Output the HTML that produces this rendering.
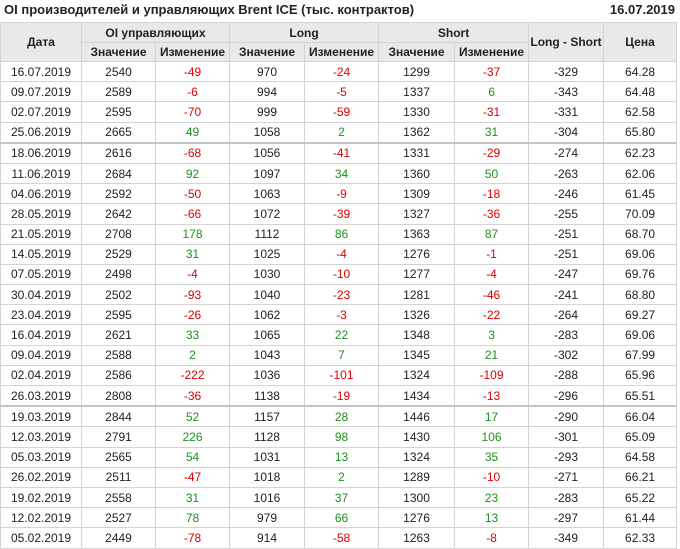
<!DOCTYPE html>
<html><head><meta charset="utf-8"><style>
body{margin:0;background:#fff;width:680px;height:548px;overflow:hidden;font-family:"Liberation Sans",Arial,sans-serif;color:#222;position:relative}
.t{position:absolute;top:2px;left:4px;font-size:13px;font-weight:bold}
.d{position:absolute;top:2px;right:5px;font-size:13px;font-weight:bold}
table{position:absolute;top:22px;left:0;border-collapse:collapse;table-layout:fixed;width:676px;font-size:12px}
td,th{border:1px solid #d4d4d4;text-align:center;padding:0;white-space:nowrap;overflow:hidden}
th{background:#e9e9e9;font-weight:bold;color:#222}
tr.h1 th{height:19px}
tr.h2 th{height:18px}
tbody td{height:19.2px}
tr.s td{border-bottom:2px solid #c4c4c4}
.r{color:#d00}.g{color:#1e8f1e}
</style></head><body>
<div class="t">OI производителей и управляющих Brent ICE (тыс. контрактов)</div>
<div class="d">16.07.2019</div>
<table>
<colgroup><col style="width:81px"><col style="width:74px"><col style="width:74px"><col style="width:75px"><col style="width:74px"><col style="width:76px"><col style="width:74px"><col style="width:75px"><col style="width:73px"></colgroup>
<thead>
<tr class="h1"><th rowspan="2">Дата</th><th colspan="2">OI управляющих</th><th colspan="2">Long</th><th colspan="2">Short</th><th rowspan="2">Long - Short</th><th rowspan="2">Цена</th></tr>
<tr class="h2"><th>Значение</th><th>Изменение</th><th>Значение</th><th>Изменение</th><th>Значение</th><th>Изменение</th></tr>
</thead>
<tbody>
<tr><td>16.07.2019</td><td>2540</td><td class="r">-49</td><td>970</td><td class="r">-24</td><td>1299</td><td class="r">-37</td><td>-329</td><td>64.28</td></tr>
<tr><td>09.07.2019</td><td>2589</td><td class="r">-6</td><td>994</td><td class="r">-5</td><td>1337</td><td class="g">6</td><td>-343</td><td>64.48</td></tr>
<tr><td>02.07.2019</td><td>2595</td><td class="r">-70</td><td>999</td><td class="r">-59</td><td>1330</td><td class="r">-31</td><td>-331</td><td>62.58</td></tr>
<tr class="s"><td>25.06.2019</td><td>2665</td><td class="g">49</td><td>1058</td><td class="g">2</td><td>1362</td><td class="g">31</td><td>-304</td><td>65.80</td></tr>
<tr><td>18.06.2019</td><td>2616</td><td class="r">-68</td><td>1056</td><td class="r">-41</td><td>1331</td><td class="r">-29</td><td>-274</td><td>62.23</td></tr>
<tr><td>11.06.2019</td><td>2684</td><td class="g">92</td><td>1097</td><td class="g">34</td><td>1360</td><td class="g">50</td><td>-263</td><td>62.06</td></tr>
<tr><td>04.06.2019</td><td>2592</td><td class="r">-50</td><td>1063</td><td class="r">-9</td><td>1309</td><td class="r">-18</td><td>-246</td><td>61.45</td></tr>
<tr><td>28.05.2019</td><td>2642</td><td class="r">-66</td><td>1072</td><td class="r">-39</td><td>1327</td><td class="r">-36</td><td>-255</td><td>70.09</td></tr>
<tr><td>21.05.2019</td><td>2708</td><td class="g">178</td><td>1112</td><td class="g">86</td><td>1363</td><td class="g">87</td><td>-251</td><td>68.70</td></tr>
<tr><td>14.05.2019</td><td>2529</td><td class="g">31</td><td>1025</td><td class="r">-4</td><td>1276</td><td class="r">-1</td><td>-251</td><td>69.06</td></tr>
<tr><td>07.05.2019</td><td>2498</td><td class="r">-4</td><td>1030</td><td class="r">-10</td><td>1277</td><td class="r">-4</td><td>-247</td><td>69.76</td></tr>
<tr><td>30.04.2019</td><td>2502</td><td class="r">-93</td><td>1040</td><td class="r">-23</td><td>1281</td><td class="r">-46</td><td>-241</td><td>68.80</td></tr>
<tr><td>23.04.2019</td><td>2595</td><td class="r">-26</td><td>1062</td><td class="r">-3</td><td>1326</td><td class="r">-22</td><td>-264</td><td>69.27</td></tr>
<tr><td>16.04.2019</td><td>2621</td><td class="g">33</td><td>1065</td><td class="g">22</td><td>1348</td><td class="g">3</td><td>-283</td><td>69.06</td></tr>
<tr><td>09.04.2019</td><td>2588</td><td class="g">2</td><td>1043</td><td class="g">7</td><td>1345</td><td class="g">21</td><td>-302</td><td>67.99</td></tr>
<tr><td>02.04.2019</td><td>2586</td><td class="r">-222</td><td>1036</td><td class="r">-101</td><td>1324</td><td class="r">-109</td><td>-288</td><td>65.96</td></tr>
<tr class="s"><td>26.03.2019</td><td>2808</td><td class="r">-36</td><td>1138</td><td class="r">-19</td><td>1434</td><td class="r">-13</td><td>-296</td><td>65.51</td></tr>
<tr><td>19.03.2019</td><td>2844</td><td class="g">52</td><td>1157</td><td class="g">28</td><td>1446</td><td class="g">17</td><td>-290</td><td>66.04</td></tr>
<tr><td>12.03.2019</td><td>2791</td><td class="g">226</td><td>1128</td><td class="g">98</td><td>1430</td><td class="g">106</td><td>-301</td><td>65.09</td></tr>
<tr><td>05.03.2019</td><td>2565</td><td class="g">54</td><td>1031</td><td class="g">13</td><td>1324</td><td class="g">35</td><td>-293</td><td>64.58</td></tr>
<tr><td>26.02.2019</td><td>2511</td><td class="r">-47</td><td>1018</td><td class="g">2</td><td>1289</td><td class="r">-10</td><td>-271</td><td>66.21</td></tr>
<tr><td>19.02.2019</td><td>2558</td><td class="g">31</td><td>1016</td><td class="g">37</td><td>1300</td><td class="g">23</td><td>-283</td><td>65.22</td></tr>
<tr><td>12.02.2019</td><td>2527</td><td class="g">78</td><td>979</td><td class="g">66</td><td>1276</td><td class="g">13</td><td>-297</td><td>61.44</td></tr>
<tr><td>05.02.2019</td><td>2449</td><td class="r">-78</td><td>914</td><td class="r">-58</td><td>1263</td><td class="r">-8</td><td>-349</td><td>62.33</td></tr>
</tbody></table>
</body></html>
